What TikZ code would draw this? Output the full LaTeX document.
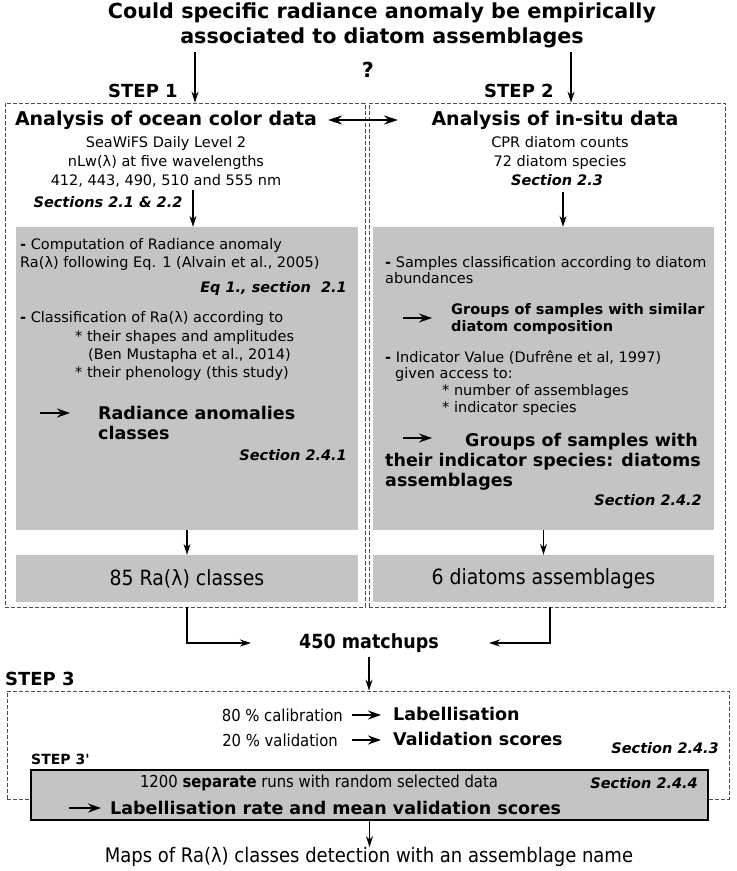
\documentclass[tikz,border=0pt]{standalone}
\usepackage{fontspec}
\setmainfont{DejaVu Sans}
\newfontfamily\condsans{DejaVu Sans Condensed}
\definecolor{boxgray}{HTML}{C4C4C4}
\definecolor{dashgray}{HTML}{4D4D4D}
\usetikzlibrary{arrows.meta,positioning,calc}

\begin{document}
\begin{tikzpicture}[x=1pt,y=-1pt,
    ttl/.style={font=\bfseries\fontsize{20.7}{25}\selectfont,align=center,inner sep=0pt},
    stp/.style={font=\bfseries\fontsize{18}{22}\selectfont,inner sep=0pt},
    hd/.style={font=\bfseries\fontsize{19}{22}\selectfont,inner sep=0pt},
    tx/.style={font=\fontsize{14.5}{18}\selectfont,align=left,inner sep=0pt},
    ctx/.style={font=\fontsize{14.5}{19}\selectfont,align=center,inner sep=0pt},
    sec/.style={font=\bfseries\itshape\fontsize{14.5}{17}\selectfont,inner sep=0pt},
    big/.style={font=\bfseries\fontsize{17.5}{20}\selectfont,align=left,inner sep=0pt},
    cnd/.style={font=\condsans\fontsize{16.5}{20}\selectfont,inner sep=0pt},
    dbox/.style={draw=dashgray,dash pattern=on 4pt off 2pt,line width=0.8pt,inner sep=0pt},
    gbox/.style={fill=boxgray,draw=none,inner sep=0pt},
    ar/.style={-{Stealth[length=11pt,width=7pt]},line width=1.4pt},
    sar/.style={-{Stealth[length=13pt,width=9pt]},line width=1.8pt},
    dar/.style={{Stealth[length=14pt,width=9pt]}-{Stealth[length=14pt,width=9pt]},line width=1.2pt},
  ]
    \useasboundingbox (0,0) rectangle (737,871);

    % question
    \node[ttl] (q) at (382,25.5) {Could specific radiance anomaly be empirically\\associated to diatom assemblages};
    \node[ttl] (qm) at (368,70) {?};
    \node[stp] (s1) at (143,91) {STEP 1};
    \node[stp] (s2) at (519,91) {STEP 2};

    % step 1 and step 2 frames
    \node[dbox,minimum width=360pt,minimum height=504pt] (bl) at (185,355) {};
    \node[dbox,minimum width=356pt,minimum height=504pt] (br) at (547,355) {};
    \coordinate (t1) at (195,52); \coordinate (t2) at (571,52);
    \draw[ar] (t1) -- (t1 |- bl.north); \draw[ar] (t2) -- (t2 |- br.north);

    \node[hd] (h1) at (166,120) {Analysis of ocean color data};
    \node[hd] (h2) at (555,120) {Analysis of in-situ data};
    \coordinate (da) at (328,120); \coordinate (db) at (398,120);
    \draw[dar] (da) -- (db);

    \node[ctx] (d1) at (166,162) {SeaWiFS Daily Level 2\\nLw(λ) at five wavelengths\\412, 443, 490, 510 and 555 nm};
    \node[sec] (x1) at (108,202) {Sections 2.1 \& 2.2};
    \node[ctx] (d2) at (560,152.5) {CPR diatom counts\\72 diatom species};
    \node[sec] (x2) at (557,180) {Section 2.3};

    \node[gbox,minimum width=342pt,minimum height=303pt] (gl) at (187,378.5) {};
    \node[gbox,minimum width=341pt,minimum height=303pt] (gr) at (543.5,378.5) {};
    \coordinate (u1) at (193,190); \coordinate (u2) at (563,192);
    \draw[ar] (u1) -- (u1 |- gl.north); \draw[ar] (u2) -- (u2 |- gr.north);

    % ocean color side
    \node[tx,anchor=west] (l1) at (20,254) {\textbf{-} Computation of Radiance anomaly\\Ra(λ) following Eq. 1 (Alvain et al., 2005)};
    \node[sec,anchor=east] (e1) at (347,288) {Eq 1., section\ \ 2.1};
    \node[tx,anchor=west] (l2) at (20,318) {\textbf{-} Classification of Ra(λ) according to};
    \node[tx,anchor=west] (l3) at (75,355.5) {* their shapes and amplitudes\\\hspace*{13pt}(Ben Mustapha et al., 2014)\\* their phenology (this study)};
    \coordinate (a1) at (40,413); \draw[sar] (a1) -- ++(30,0);
    \node[big,anchor=west] (r1) at (98,423) {Radiance anomalies\\classes};
    \node[sec,anchor=east] (e2) at (347,455) {Section 2.4.1};

    % in-situ side
    \node[tx,anchor=west,font=\fontsize{14.5}{16}\selectfont] (m1) at (385,270) {\textbf{-} Samples classification according to diatom\\abundances};
    \coordinate (a2) at (403,318); \draw[sar] (a2) -- ++(29,0);
    \node[tx,anchor=west,font=\bfseries\fontsize{14.5}{17}\selectfont] (g1) at (451,318.5) {Groups of samples with similar\\diatom composition};
    \node[tx,anchor=west,font=\fontsize{14.5}{16.7}\selectfont] (m2) at (385,383) {\textbf{-} Indicator Value (Dufrêne et al, 1997)\\\hspace*{10pt}given access to:\\\hspace*{57pt}* number of assemblages\\\hspace*{57pt}* indicator species};
    \coordinate (a3) at (403,438); \draw[sar] (a3) -- ++(29,0);
    \node[big,anchor=west] (g2) at (385,462) {\hspace*{80pt}Groups of samples with\\their indicator species: diatoms\\assemblages};
    \node[sec,anchor=east] (e3) at (702,500) {Section 2.4.2};

    \node[gbox,minimum width=342pt,minimum height=47pt,font=\condsans\fontsize{21}{24}\selectfont] (cl) at (187,578.5) {85 Ra(λ) classes};
    \node[gbox,minimum width=341pt,minimum height=47pt,font=\condsans\fontsize{21}{24}\selectfont] (cr) at (543.5,578.5) {6 diatoms assemblages};
    \draw[ar] (gl.south) -- (cl.north); \draw[ar] (gr.south) -- (cr.north);

    % matchups
    \node[stp,font=\condsans\bfseries\fontsize{19.5}{22}\selectfont] (mt) at (369,643) {450 matchups};
    \coordinate (j2) at (550,607);
    \draw[ar] (cl.south |- bl.south) |- ([xshift=-48pt]mt.west);
    \draw[ar] (j2) |- ([xshift=50pt]mt.east);

    % step 3
    \node[stp,anchor=west] (s3) at (5,679) {STEP 3};
    \node[dbox,minimum width=722pt,minimum height=108pt] (b3) at (368,745) {};
    \draw[ar] ([yshift=-4pt]mt.south) -- (mt.south |- b3.north);

    \node[cnd,anchor=east] (c80) at (343,715) {80 \% calibration};
    \node[cnd,anchor=east] (c20) at (338,740) {20 \% validation};
    \coordinate (a4) at (352,715); \draw[sar] (a4) -- ++(29,0);
    \coordinate (a5) at (352,740); \draw[sar] (a5) -- ++(29,0);
    \node[big,anchor=west] (lb) at (393,714) {Labellisation};
    \node[big,anchor=west] (vs) at (393,739) {Validation scores};
    \node[sec,anchor=east] (e4) at (719,748) {Section 2.4.3};
    \node[stp,anchor=west,font=\bfseries\fontsize{14}{17}\selectfont] (s3p) at (31,759) {STEP 3\textquotesingle};

    \node[gbox,draw=black,line width=1.5pt,minimum width=677pt,minimum height=50pt] (b4) at (369.5,795) {};
    \node[cnd,font=\condsans\fontsize{16.5}{18}\selectfont] (rn) at (319,783) {1200 \textbf{separate} runs with random selected data};
    \node[sec,anchor=east] (e5) at (698,783) {Section 2.4.4};
    \coordinate (a6) at (69,808); \draw[sar] (a6) -- ++(32,0);
    \node[big,anchor=west] (lr) at (110,808) {Labellisation rate and mean validation scores};

    \node[cnd,font=\condsans\fontsize{20}{23}\selectfont] (mp) at (369,857) {Maps of Ra(λ) classes detection with an assemblage name};
    \draw[ar] (b4.south) -- (b4.south |- mp.north);
  \end{tikzpicture}
\end{document}
